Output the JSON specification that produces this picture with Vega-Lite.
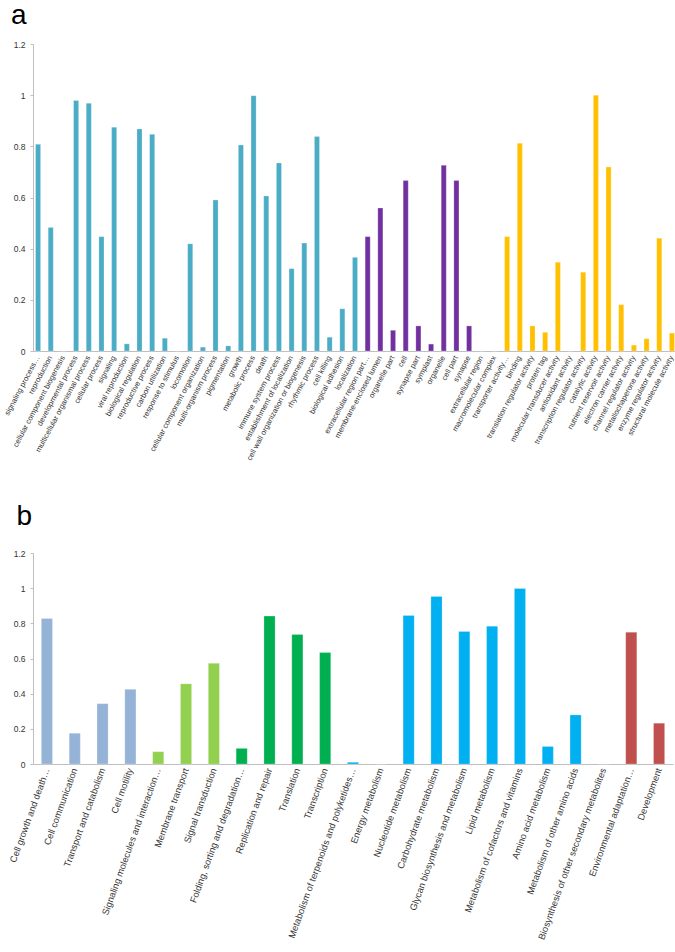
{
  "$schema": "https://vega.github.io/schema/vega-lite/v6.json",
  "background": "white",
  "padding": {"left": 2, "top": 2, "right": 0, "bottom": 0},
  "config": {
    "font": "Liberation Sans",
    "view": {"stroke": null},
    "axis": {"domainColor": "#BFBFBF", "tickColor": "#BFBFBF", "grid": false, "labelColor": "#333333", "labelFont": "Liberation Sans", "title": null},
    "title": {"font": "Liberation Sans", "fontSize": 28, "fontWeight": "normal", "anchor": "start", "frame": "bounds", "color": "#000000", "dx": 8}
  },
  "datasets": {
    "goa": [
      {"term": "signaling process…", "v": 0.808, "grp": "BP"},
      {"term": "reproduction", "v": 0.483, "grp": "BP"},
      {"term": "cellular component biogenesis", "v": 0, "grp": "BP"},
      {"term": "developmental process", "v": 0.979, "grp": "BP"},
      {"term": "multicellular organismal process", "v": 0.968, "grp": "BP"},
      {"term": "cellular process", "v": 0.447, "grp": "BP"},
      {"term": "signaling", "v": 0.875, "grp": "BP"},
      {"term": "viral reproduction", "v": 0.028, "grp": "BP"},
      {"term": "biological regulation", "v": 0.868, "grp": "BP"},
      {"term": "reproductive process", "v": 0.847, "grp": "BP"},
      {"term": "carbon utilization", "v": 0.05, "grp": "BP"},
      {"term": "response to stimulus", "v": 0, "grp": "BP"},
      {"term": "locomotion", "v": 0.419, "grp": "BP"},
      {"term": "cellular component organization", "v": 0.015, "grp": "BP"},
      {"term": "multi-organism process", "v": 0.59, "grp": "BP"},
      {"term": "pigmentation", "v": 0.02, "grp": "BP"},
      {"term": "growth", "v": 0.805, "grp": "BP"},
      {"term": "metabolic process", "v": 0.998, "grp": "BP"},
      {"term": "death", "v": 0.606, "grp": "BP"},
      {"term": "immune system process", "v": 0.735, "grp": "BP"},
      {"term": "establishment of localization", "v": 0.322, "grp": "BP"},
      {"term": "cell wall organization or biogenesis", "v": 0.422, "grp": "BP"},
      {"term": "rhythmic process", "v": 0.838, "grp": "BP"},
      {"term": "cell killing", "v": 0.054, "grp": "BP"},
      {"term": "biological adhesion", "v": 0.165, "grp": "BP"},
      {"term": "localization", "v": 0.366, "grp": "BP"},
      {"term": "extracellular region part…", "v": 0.447, "grp": "CC"},
      {"term": "membrane-enclosed lumen", "v": 0.559, "grp": "CC"},
      {"term": "organelle part", "v": 0.081, "grp": "CC"},
      {"term": "cell", "v": 0.666, "grp": "CC"},
      {"term": "synapse part", "v": 0.098, "grp": "CC"},
      {"term": "symplast", "v": 0.027, "grp": "CC"},
      {"term": "organelle", "v": 0.726, "grp": "CC"},
      {"term": "cell part", "v": 0.666, "grp": "CC"},
      {"term": "synapse", "v": 0.098, "grp": "CC"},
      {"term": "extracellular region", "v": 0, "grp": "CC"},
      {"term": "macromolecular complex", "v": 0, "grp": "CC"},
      {"term": "transporter activity…", "v": 0.447, "grp": "MF"},
      {"term": "binding", "v": 0.812, "grp": "MF"},
      {"term": "translation regulator activity", "v": 0.098, "grp": "MF"},
      {"term": "protein tag", "v": 0.073, "grp": "MF"},
      {"term": "molecular transducer activity", "v": 0.347, "grp": "MF"},
      {"term": "antioxidant activity", "v": 0, "grp": "MF"},
      {"term": "transcription regulator activity", "v": 0.308, "grp": "MF"},
      {"term": "catalytic activity", "v": 1.0, "grp": "MF"},
      {"term": "nutrient reservoir activity", "v": 0.719, "grp": "MF"},
      {"term": "electron carrier activity", "v": 0.181, "grp": "MF"},
      {"term": "channel regulator activity", "v": 0.023, "grp": "MF"},
      {"term": "metallochaperone activity", "v": 0.048, "grp": "MF"},
      {"term": "enzyme regulator activity", "v": 0.441, "grp": "MF"},
      {"term": "structural molecule activity", "v": 0.07, "grp": "MF"}
    ],
    "kegg": [
      {"term": "Cell growth and death…", "v": 0.827, "grp": "CP"},
      {"term": "Cell communication", "v": 0.175, "grp": "CP"},
      {"term": "Transport and catabolism", "v": 0.343, "grp": "CP"},
      {"term": "Cell motility", "v": 0.425, "grp": "CP"},
      {"term": "Signaling molecules and interaction…", "v": 0.07, "grp": "EIP"},
      {"term": "Membrane transport", "v": 0.456, "grp": "EIP"},
      {"term": "Signal transduction", "v": 0.573, "grp": "EIP"},
      {"term": "Folding, sorting and degradation…", "v": 0.089, "grp": "GIP"},
      {"term": "Replication and repair", "v": 0.841, "grp": "GIP"},
      {"term": "Translation", "v": 0.736, "grp": "GIP"},
      {"term": "Transcription", "v": 0.634, "grp": "GIP"},
      {"term": "Metabolism of terpenoids and polyketides…", "v": 0.01, "grp": "M"},
      {"term": "Energy metabolism", "v": 0, "grp": "M"},
      {"term": "Nucleotide metabolism", "v": 0.845, "grp": "M"},
      {"term": "Carbohydrate metabolism", "v": 0.953, "grp": "M"},
      {"term": "Glycan biosynthesis and metabolism", "v": 0.753, "grp": "M"},
      {"term": "Lipid metabolism", "v": 0.784, "grp": "M"},
      {"term": "Metabolism of cofactors and vitamins", "v": 0.998, "grp": "M"},
      {"term": "Amino acid metabolism", "v": 0.099, "grp": "M"},
      {"term": "Metabolism of other amino acids", "v": 0.279, "grp": "M"},
      {"term": "Biosynthesis of other secondary metabolites", "v": 0, "grp": "M"},
      {"term": "Environmental adaptation…", "v": 0.75, "grp": "OS"},
      {"term": "Development", "v": 0.232, "grp": "OS"}
    ]
  },
  "vconcat": [
    {
      "title": {"text": "a", "offset": 10},
      "data": {"name": "goa"},
      "width": 644,
      "height": 307,
      "mark": {"type": "bar", "stroke": "white", "strokeWidth": 0.4, "strokeOpacity": 0.6},
      "encoding": {
        "x": {"field": "term", "type": "nominal", "sort": null,
              "scale": {"paddingInner": 0.6, "paddingOuter": 0.2},
              "axis": {"labelAngle": -62, "labelFontSize": 7.6, "ticks": false, "labelPadding": 5, "labelDx": 5, "labelLimit": 300}},
        "y": {"field": "v", "type": "quantitative",
              "scale": {"domain": [0, 1.2]},
              "axis": {"values": [0, 0.2, 0.4, 0.6, 0.8, 1, 1.2], "format": "~g", "labelFontSize": 8.5, "tickSize": 3, "labelPadding": 5}},
        "color": {"field": "grp", "type": "nominal", "legend": null,
                  "scale": {"domain": ["BP", "CC", "MF"], "range": ["#4BACC6", "#7030A0", "#FFC000"]}}
      }
    },
    {
      "title": {"text": "b", "offset": 18},
      "data": {"name": "kegg"},
      "width": 640,
      "height": 211,
      "mark": {"type": "bar", "stroke": "white", "strokeWidth": 0.4, "strokeOpacity": 0.6},
      "encoding": {
        "x": {"field": "term", "type": "nominal", "sort": null,
              "scale": {"paddingInner": 0.6, "paddingOuter": 0.3},
              "axis": {"labelAngle": -70, "labelFontSize": 9.3, "ticks": false, "labelPadding": 4, "labelDx": 3, "labelLimit": 300}},
        "y": {"field": "v", "type": "quantitative",
              "scale": {"domain": [0, 1.2]},
              "axis": {"values": [0, 0.2, 0.4, 0.6, 0.8, 1, 1.2], "format": "~g", "labelFontSize": 8.5, "tickSize": 3, "labelPadding": 5}},
        "color": {"field": "grp", "type": "nominal", "legend": null,
                  "scale": {"domain": ["CP", "EIP", "GIP", "M", "OS"], "range": ["#95B3D7", "#92D050", "#00B050", "#00B0F0", "#C0504D"]}}
      }
    }
  ],
  "resolve": {"scale": {"color": "independent"}},
  "spacing": 41
}
